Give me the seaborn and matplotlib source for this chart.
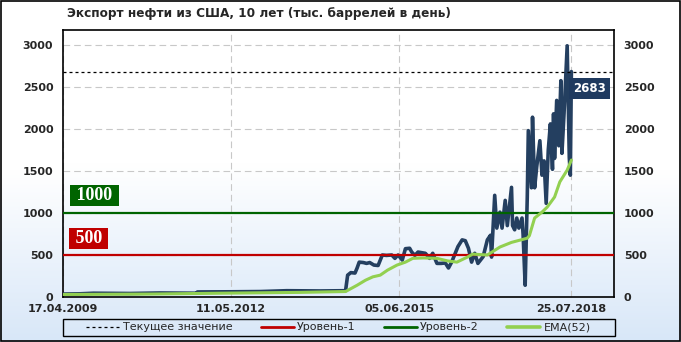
import numpy as np
import pandas as pd
import matplotlib
matplotlib.use("Agg")
import matplotlib.pyplot as plt
import matplotlib.transforms as mtransforms
from matplotlib.colors import LinearSegmentedColormap
from matplotlib.lines import Line2D
from matplotlib.patches import Rectangle
import seaborn as sns

# ---------------- data ----------------
title = "Экспорт нефти из США, 10 лет (тыс. баррелей в день)"
start_date = "2009-04-17"          # first weekly observation
end_date = "2019-05-07"            # right edge of the time axis

export_weeks = [0, 16, 29, 64, 92, 127, 128, 159, 188, 213, 245, 269, 271, 274, 278, 280,
                282, 286, 289, 292, 296, 300, 304, 308, 313, 316, 319, 323, 326, 330, 332,
                335, 338, 345, 349, 352, 356, 360, 364, 367, 370, 376, 380, 383, 386, 389,
                392, 395, 400, 404, 407, 408, 411, 413, 416, 418, 421, 423, 427, 428, 430,
                432, 434, 437, 438, 440, 442, 443, 446, 447, 449, 451, 454, 456, 458, 460,
                462, 464, 466, 467, 468, 470, 472, 474, 475, 477, 480, 482, 483, 484]
export_values = [35, 38, 45, 42, 48, 45, 60, 62, 65, 75, 72, 75, 260, 290, 285, 345,
                 415, 410, 400, 410, 380, 375, 500, 495, 500, 460, 500, 440, 575, 580, 535,
                 495, 535, 520, 460, 520, 400, 400, 405, 345, 415, 600, 680, 670, 580, 415,
                 520, 400, 480, 680, 735, 475, 1210, 820, 1010, 820, 1150, 850, 1305, 850, 800,
                 940, 820, 940, 750, 140, 1190, 1980, 1300, 2140, 1300, 1550, 1860, 1450, 1620, 1115,
                 1750, 2060, 1520, 2180, 1650, 2340, 1800, 2575, 1710, 2180, 2990, 1660, 1450, 2683]

ema_weeks = [0, 83, 149, 226, 269, 280, 288, 295, 302, 309, 318, 326, 333, 343, 356, 366,
             375, 385, 390, 404, 416, 427, 442, 444, 449, 456, 461, 468, 473, 480, 484]
ema_values = [30, 35, 45, 55, 65, 140, 200, 240, 260, 320, 380, 415, 460, 465, 460, 430,
              415, 475, 510, 500, 595, 650, 700, 730, 940, 1010, 1070, 1190, 1370, 1510, 1630]

current_value = 2683
level1 = 500
level2 = 1000
y_ticks = [0, 500, 1000, 1500, 2000, 2500, 3000]
x_tick_dates = ["2009-04-17", "2012-05-11", "2015-06-05", "2018-07-25"]
x_tick_labels = ["17.04.2009", "11.05.2012", "05.06.2015", "25.07.2018"]
legend_labels = ["Текущее значение", "Уровень-1", "Уровень-2", "EMA(52)"]

# ---------------- style ----------------
sns.set_theme(style="white")
plt.rcParams["font.family"] = ["DejaVu Sans"]
plt.rcParams["font.weight"] = "bold"

NAVY = "#243f60"
RED = "#c00000"
DGREEN = "#006400"
LGREEN = "#92d050"

W, H = 681, 342
fig = plt.figure(figsize=(W / 100, H / 100), dpi=100)

# figure background gradient
bg = fig.add_axes([0, 0, 1, 1], zorder=-10)
grad = np.linspace(0, 1, 256).reshape(-1, 1)
cm_fig = LinearSegmentedColormap.from_list("bgfig", ["#ffffff", "#ffffff", "#d8e7f8"])
bg.imshow(grad, aspect="auto", cmap=cm_fig, extent=[0, 1, 0, 1], origin="upper")
bg.axis("off")

left, right, top, bottom = 63, 614, 30, 297
pos = [left / W, 1 - bottom / H, (right - left) / W, (bottom - top) / H]

# plot area gradient
gax = fig.add_axes(pos, zorder=-5)
cm_ax = LinearSegmentedColormap.from_list("bgax", ["#ffffff", "#ffffff", "#e1edfa"])
gax.imshow(grad, aspect="auto", cmap=cm_ax, extent=[0, 1, 0, 1], origin="upper")
gax.axis("off")

ax = fig.add_axes(pos, zorder=1)
ax.set_facecolor("none")

start = pd.Timestamp(start_date)
df = pd.DataFrame({
    "date": start + pd.to_timedelta(np.array(export_weeks) * 7, unit="D"),
    "value": export_values,
})
dema = pd.DataFrame({
    "date": start + pd.to_timedelta(np.array(ema_weeks) * 7, unit="D"),
    "value": ema_values,
})

sns.lineplot(data=df, x="date", y="value", ax=ax, color=NAVY, lw=2.6, zorder=3)
ax.axhline(level1, color=RED, lw=1.6, zorder=4)
ax.axhline(level2, color=DGREEN, lw=1.6, zorder=4)
sns.lineplot(data=dema, x="date", y="value", ax=ax, color=LGREEN, lw=2.2, zorder=5)
ax.axhline(current_value, color="black", lw=0.9, ls=(0, (2.4, 2.4)), zorder=6)

ax.set_xlim(start, pd.Timestamp(end_date))
ax.set_ylim(0, 3178)
ax.set_xlabel("")
ax.set_ylabel("")

ax.set_xticks(pd.to_datetime(x_tick_dates))
ax.set_xticklabels(x_tick_labels, fontsize=8, fontweight="bold")
ax.set_yticks(y_ticks)
ax.tick_params(axis="y", labelleft=True, labelright=True, length=0, labelsize=8, pad=7)
ax.tick_params(axis="x", length=0, labelsize=8, pad=5)
for t in ax.yaxis.get_major_ticks():
    t.label1.set_fontweight("bold")
    t.label2.set_fontweight("bold")

ax.grid(True, color="#c8c8c8", ls=(0, (6, 3.6)), lw=0.8)
ax.set_axisbelow(True)
for s in ax.spines.values():
    s.set_visible(True)
    s.set_color("black")
    s.set_linewidth(1.2)

# level labels
trans = mtransforms.blended_transform_factory(ax.transAxes, ax.transData)
ax.annotate(" 1000 ", xy=(0, level2), xycoords=trans, xytext=(31.5, 17.5),
            textcoords="offset pixels", ha="center", va="center", color="white",
            fontsize=13, fontweight="bold", family=["Liberation Serif", "DejaVu Serif"],
            bbox=dict(boxstyle="square,pad=0.1", fc=DGREEN, ec="none"), zorder=7)
ax.annotate(" 500 ", xy=(0, level1), xycoords=trans, xytext=(25.5, 16.5),
            textcoords="offset pixels", ha="center", va="center", color="white",
            fontsize=13, fontweight="bold", family=["Liberation Serif", "DejaVu Serif"],
            bbox=dict(boxstyle="square,pad=0.1", fc=RED, ec="none"), zorder=7)

last_date = df["date"].iloc[-1]
ax.annotate(f"{current_value}", xy=(last_date, current_value), xytext=(18, -17),
            textcoords="offset pixels", ha="center", va="center", color="white",
            fontsize=8.5, fontweight="bold",
            bbox=dict(boxstyle="square,pad=0.35", fc="#1f3a5f", ec="none"), zorder=8)

# title
fig.text(67 / W, 1 - 14 / H, title, ha="left", va="center", fontsize=8.7, fontweight="bold")

# legend
handles = [
    Line2D([], [], color="black", lw=0.9, ls=(0, (2.4, 2.4))),
    Line2D([], [], color=RED, lw=2),
    Line2D([], [], color=DGREEN, lw=2),
    Line2D([], [], color=LGREEN, lw=2.6),
]
fig.legend(handles, legend_labels, loc="center",
           bbox_to_anchor=((left + right) / 2 / W, 1 - 327.5 / H),
           ncol=4, frameon=False, handlelength=3.0, handletextpad=0.3,
           columnspacing=2.5, prop={"size": 8, "weight": "normal"})
fig.add_artist(Rectangle((63 / W, 1 - 336 / H), (615 - 63) / W, 17 / H,
                         transform=fig.transFigure, fill=False, ec="black", lw=1.0))

# outer border
fig.add_artist(Rectangle((0.6 / W, 0.6 / H), 1 - 1.2 / W, 1 - 1.2 / H,
                         transform=fig.transFigure, fill=False, ec="black", lw=1.2))

fig.savefig("out.png", dpi=100)
